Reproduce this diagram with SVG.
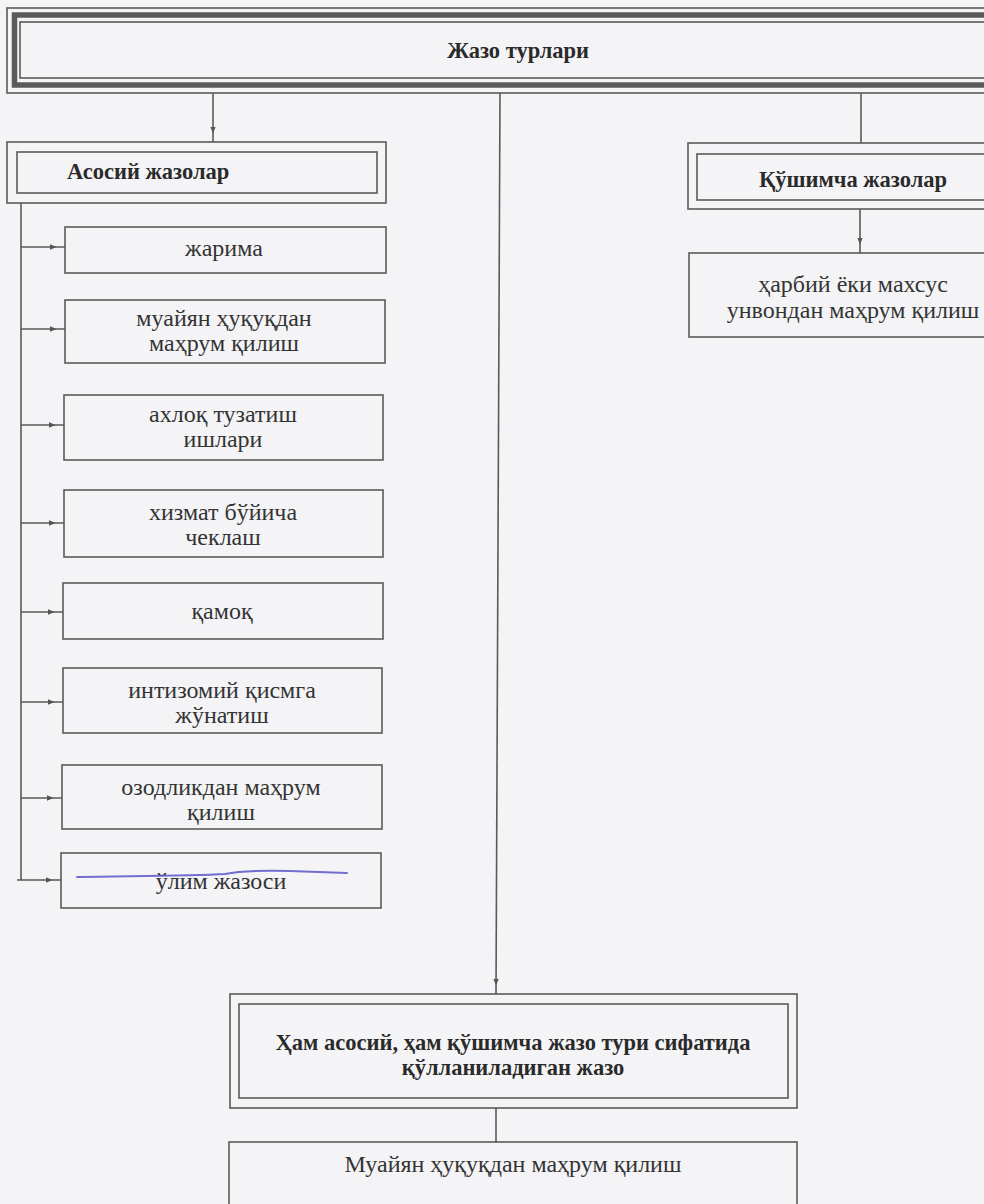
<svg xmlns="http://www.w3.org/2000/svg" width="984" height="1204" viewBox="0 0 984 1204">
<defs>
<marker id="ah" viewBox="0 0 10 10" refX="22" refY="5" markerWidth="7" markerHeight="7" markerUnits="userSpaceOnUse" orient="auto">
<path d="M0,1 L10,5 L0,9 z" fill="#555"/>
</marker>
<style>
.bg{fill:#f4f4f6}
.box{fill:none;stroke:#5a5a5a;stroke-width:1.6}
.thick{fill:none;stroke:#5a5a5a;stroke-width:5.5}
.ln{fill:none;stroke:#5a5a5a;stroke-width:1.6}
.t{font-family:"Liberation Serif","DejaVu Serif",serif;font-size:24px;fill:#333;text-anchor:middle}
.b{font-weight:bold;fill:#2a2a2a;font-size:22.5px}
</style>
</defs>
<rect class="bg" x="0" y="0" width="984" height="1204"/>

<g id="connectors">
<line class="ln" x1="213" y1="93" x2="213" y2="142" marker-end="url(#ah)"/>
<line class="ln" x1="500" y1="93" x2="496" y2="994" marker-end="url(#ah)"/>
<line class="ln" x1="861" y1="93" x2="861" y2="143"/>
<line class="ln" x1="860" y1="209" x2="860" y2="253" marker-end="url(#ah)"/>
<line class="ln" x1="496" y1="1108" x2="496" y2="1142"/>
<polyline class="ln" points="21,203 21,880"/>
<line class="ln" x1="21" y1="247" x2="65" y2="247" marker-end="url(#ah)"/>
<line class="ln" x1="21" y1="329" x2="65" y2="329" marker-end="url(#ah)"/>
<line class="ln" x1="21" y1="425" x2="64" y2="425" marker-end="url(#ah)"/>
<line class="ln" x1="21" y1="523" x2="64" y2="523" marker-end="url(#ah)"/>
<line class="ln" x1="21" y1="612" x2="63" y2="612" marker-end="url(#ah)"/>
<line class="ln" x1="21" y1="702" x2="63" y2="702" marker-end="url(#ah)"/>
<line class="ln" x1="21" y1="798" x2="62" y2="798" marker-end="url(#ah)"/>
<line class="ln" x1="17" y1="880" x2="61" y2="880" marker-end="url(#ah)"/>
</g>

<g id="n-top">
<rect class="box" x="7" y="8" width="1000" height="85"/>
<rect class="thick" x="14.5" y="15" width="990" height="70"/>
<rect class="box" x="20" y="22" width="980" height="56"/>
<text class="t b" x="518" y="58">Жазо турлари</text>
</g>

<g id="n-asosiy">
<rect class="box" x="7" y="142" width="379" height="61"/>
<rect class="box" x="17" y="152" width="360" height="41"/>
<text class="t b" x="67" y="179" style="text-anchor:start">Асосий жазолар</text>
</g>

<g id="n-jarima">
<rect class="box" x="65" y="227" width="321" height="46"/>
<text class="t" x="224" y="256">жарима</text>
</g>
<g id="n-muayyan">
<rect class="box" x="65" y="300" width="320" height="63"/>
<text class="t" x="224" y="326">муайян ҳуқуқдан</text>
<text class="t" x="224" y="351">маҳрум қилиш</text>
</g>
<g id="n-axloq">
<rect class="box" x="64" y="395" width="319" height="65"/>
<text class="t" x="223" y="422">ахлоқ тузатиш</text>
<text class="t" x="223" y="447">ишлари</text>
</g>
<g id="n-xizmat">
<rect class="box" x="64" y="490" width="319" height="67"/>
<text class="t" x="223" y="520">хизмат бўйича</text>
<text class="t" x="223" y="545">чеклаш</text>
</g>
<g id="n-qamoq">
<rect class="box" x="63" y="583" width="320" height="56"/>
<text class="t" x="222" y="619">қамоқ</text>
</g>
<g id="n-intizom">
<rect class="box" x="63" y="668" width="319" height="65"/>
<text class="t" x="222" y="698">интизомий қисмга</text>
<text class="t" x="222" y="723">жўнатиш</text>
</g>
<g id="n-ozod">
<rect class="box" x="62" y="765" width="320" height="64"/>
<text class="t" x="221" y="795">озодликдан маҳрум</text>
<text class="t" x="221" y="820">қилиш</text>
</g>
<g id="n-olim">
<rect class="box" x="61" y="853" width="320" height="55"/>
<text class="t" x="221" y="889">ўлим жазоси</text>
<path d="M77,877 C130,876 190,876 225,874 C240,871 255,870 290,871 L347,873" fill="none" stroke="#5a55c8" stroke-width="2" stroke-linecap="round" opacity="0.85"/>
</g>

<g id="n-qushimcha">
<rect class="box" x="688" y="143" width="320" height="66"/>
<rect class="box" x="697" y="154" width="300" height="46"/>
<text class="t b" x="853" y="187">Қўшимча жазолар</text>
</g>
<g id="n-harbiy">
<rect class="box" x="689" y="253" width="320" height="84"/>
<text class="t" x="853" y="292">ҳарбий ёки махсус</text>
<text class="t" x="853" y="318">унвондан маҳрум қилиш</text>
</g>

<g id="n-ham">
<rect class="box" x="230" y="994" width="567" height="114"/>
<rect class="box" x="239" y="1004" width="549" height="94"/>
<text class="t b" x="513" y="1050">Ҳам асосий, ҳам қўшимча жазо тури сифатида</text>
<text class="t b" x="513" y="1075">қўлланиладиган жазо</text>
</g>
<g id="n-bottom">
<rect class="box" x="229" y="1142" width="568" height="80"/>
<text class="t" x="513" y="1172">Муайян ҳуқуқдан маҳрум қилиш</text>
</g>
</svg>
